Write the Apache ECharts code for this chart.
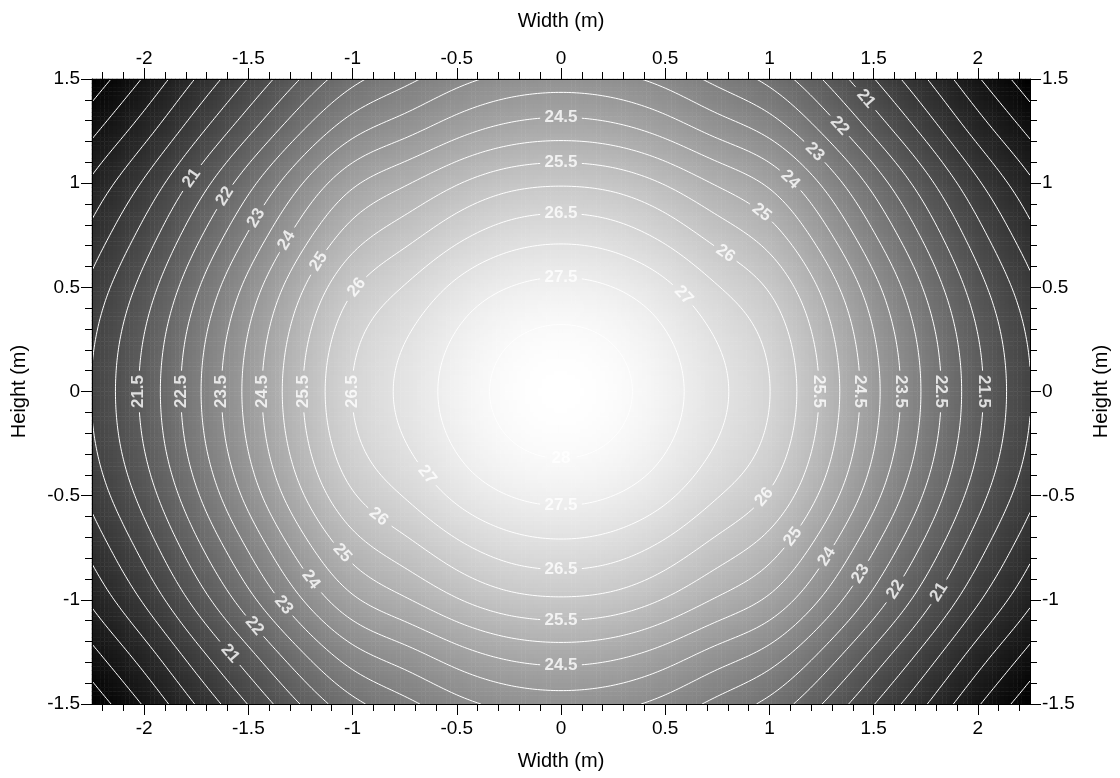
<!DOCTYPE html>
<html>
<head>
<meta charset="utf-8">
<title>Contour map</title>
<script src="https://cdn.jsdelivr.net/npm/echarts@6/dist/echarts.min.js"></script>
<style>
  html, body { margin: 0; padding: 0; background: #ffffff; }
  #chart { width: 1120px; height: 778px; }
</style>
</head>
<body>
<div id="chart"></div>
<script>
// Sample positions of the field (metres)
const widthPositions = [-2.25, -2, -1.75, -1.5, -1.25, -1, -0.75, -0.5, -0.25, 0, 0.25, 0.5, 0.75, 1, 1.25, 1.5, 1.75, 2, 2.25];
const heightPositions = [1.5, 1.25, 1, 0.75, 0.5, 0.25, 0, -0.25, -0.5, -0.75, -1, -1.25, -1.5];

// Field values, one row per height (top row first), one value per width position
const rowH150 = [17.70, 18.55, 19.53, 20.52, 21.51, 22.35, 22.86, 23.33, 23.64, 23.74, 23.64, 23.33, 22.86, 22.35, 21.51, 20.52, 19.53, 18.55, 17.70];
const rowH125 = [18.39, 19.30, 20.34, 21.40, 22.46, 23.35, 23.85, 24.34, 24.68, 24.79, 24.68, 24.34, 23.85, 23.35, 22.46, 21.40, 20.34, 19.30, 18.39];
const rowH100 = [19.10, 20.07, 21.18, 22.32, 23.45, 24.40, 24.94, 25.46, 25.83, 25.94, 25.83, 25.46, 24.94, 24.40, 23.45, 22.32, 21.18, 20.07, 19.10];
const rowH075 = [19.66, 20.69, 21.86, 23.05, 24.24, 25.24, 25.81, 26.36, 26.74, 26.86, 26.74, 26.36, 25.81, 25.24, 24.24, 23.05, 21.86, 20.69, 19.66];
const rowH050 = [20.14, 21.20, 22.42, 23.67, 24.91, 25.94, 26.53, 27.11, 27.50, 27.63, 27.50, 27.11, 26.53, 25.94, 24.91, 23.67, 22.42, 21.20, 20.14];
const rowH025 = [20.43, 21.52, 22.77, 24.04, 25.31, 26.37, 26.98, 27.56, 27.97, 28.10, 27.97, 27.56, 26.98, 26.37, 25.31, 24.04, 22.77, 21.52, 20.43];
const rowH000 = [20.52, 21.62, 22.88, 24.16, 25.44, 26.51, 27.12, 27.71, 28.12, 28.25, 28.12, 27.71, 27.12, 26.51, 25.44, 24.16, 22.88, 21.62, 20.52];
const rowHm025 = [20.43, 21.52, 22.77, 24.04, 25.31, 26.37, 26.98, 27.56, 27.97, 28.10, 27.97, 27.56, 26.98, 26.37, 25.31, 24.04, 22.77, 21.52, 20.43];
const rowHm050 = [20.14, 21.20, 22.42, 23.67, 24.91, 25.94, 26.53, 27.11, 27.50, 27.63, 27.50, 27.11, 26.53, 25.94, 24.91, 23.67, 22.42, 21.20, 20.14];
const rowHm075 = [19.66, 20.69, 21.86, 23.05, 24.24, 25.24, 25.81, 26.36, 26.74, 26.86, 26.74, 26.36, 25.81, 25.24, 24.24, 23.05, 21.86, 20.69, 19.66];
const rowHm100 = [19.10, 20.07, 21.18, 22.32, 23.45, 24.40, 24.94, 25.46, 25.83, 25.94, 25.83, 25.46, 24.94, 24.40, 23.45, 22.32, 21.18, 20.07, 19.10];
const rowHm125 = [18.39, 19.30, 20.34, 21.40, 22.46, 23.35, 23.85, 24.34, 24.68, 24.79, 24.68, 24.34, 23.85, 23.35, 22.46, 21.40, 20.34, 19.30, 18.39];
const rowHm150 = [17.70, 18.55, 19.53, 20.52, 21.51, 22.35, 22.86, 23.33, 23.64, 23.74, 23.64, 23.33, 22.86, 22.35, 21.51, 20.52, 19.53, 18.55, 17.70];

// Contour levels
const contourLevels = [18, 18.5, 19, 19.5, 20, 20.5, 21, 21.5, 22, 22.5, 23, 23.5, 24, 24.5, 25, 25.5, 26, 26.5, 27, 27.5, 28];

// Tick values of the width axes
const widthTicks = [-2, -1.5, -1, -0.5, 0, 0.5, 1, 1.5, 2];

// Where each contour label sits: [level, width, height]
const labelSpots = [
  [24.5, 0, 1.312], [25.5, 0, 1.092], [26.5, 0, 0.857], [27.5, 0, 0.55],
  [28, 0, -0.324], [27.5, 0, -0.564], [26.5, 0, -0.867], [25.5, 0, -1.097], [24.5, 0, -1.318],
  [21.5, -2.031, 0], [22.5, -1.828, 0], [23.5, -1.636, 0], [24.5, -1.444, 0], [25.5, -1.237, 0], [26.5, -0.997, 0],
  [25.5, 1.235, 0], [24.5, 1.427, 0], [23.5, 1.619, 0], [22.5, 1.819, 0], [21.5, 2.019, 0],
  [21, -1.766, 1.022], [22, -1.607, 0.933], [23, -1.464, 0.833], [24, -1.32, 0.727], [25, -1.166, 0.622], [26, -0.969, 0.492],
  [21, 1.464, 1.411], [22, 1.329, 1.27], [23, 1.204, 1.135], [24, 1.082, 0.999], [25, 0.955, 0.845], [26, 0.797, 0.665], [27, 0.585, 0.454],
  [27, -0.662, -0.42], [26, -0.883, -0.612], [25, -1.06, -0.79], [24, -1.2, -0.91], [23, -1.339, -1.025], [22, -1.473, -1.135], [21, -1.593, -1.265],
  [26, 1.108, -0.617], [25, 1.176, -0.737], [24, 1.353, -0.843], [23, 1.502, -0.924], [22, 1.66, -0.991], [21, 1.804, -0.957]
];

const FONT = '"Liberation Sans", Arial, Helvetica, sans-serif';
const LABEL_FONT_SIZE = 17;

// ---- smooth field from the sampled grid (separable natural cubic splines) ----
const rowsTopDown = [rowH150, rowH125, rowH100, rowH075, rowH050, rowH025, rowH000,
                     rowHm025, rowHm050, rowHm075, rowHm100, rowHm125, rowHm150];
const rowsAsc = rowsTopDown.slice().reverse();
const yAsc = heightPositions.slice().reverse();
const nSx = widthPositions.length, nSy = yAsc.length;
const stepSx = widthPositions[1] - widthPositions[0];
const stepSy = yAsc[1] - yAsc[0];
const X0 = widthPositions[0], X1 = widthPositions[nSx - 1];
const Y0 = yAsc[0], Y1 = yAsc[nSy - 1];

function splineM(v) {
  const n = v.length, M = new Float64Array(n), m = n - 2;
  const cp = new Float64Array(m), dp = new Float64Array(m);
  for (let k = 0; k < m; k++) {
    const rhs = 6 * (v[k + 2] - 2 * v[k + 1] + v[k]);
    const prevC = k === 0 ? 0 : cp[k - 1], prevD = k === 0 ? 0 : dp[k - 1];
    const den = 4 - prevC;
    cp[k] = 1 / den;
    dp[k] = (rhs - prevD) / den;
  }
  for (let k = m - 1; k >= 0; k--) M[k + 1] = dp[k] - cp[k] * (k === m - 1 ? 0 : M[k + 2]);
  return M;
}
function splineEval(v, M, s) {
  const i = Math.min(Math.max(Math.floor(s), 0), v.length - 2);
  const t = s - i, u = 1 - t;
  return u * v[i] + t * v[i + 1] + ((u * u * u - u) * M[i] + (t * t * t - t) * M[i + 1]) / 6;
}
const rowM = rowsAsc.map(r => splineM(r));
// values on a lattice: xs (width positions) by ys (height positions)
function lattice(xs, ys) {
  const out = xs.map(() => new Float64Array(ys.length));
  xs.forEach((x, a) => {
    const s = (x - X0) / stepSx;
    const col = rowsAsc.map((r, j) => splineEval(r, rowM[j], s));
    const colM = splineM(col);
    ys.forEach((y, b) => { out[a][b] = splineEval(col, colM, (y - Y0) / stepSy); });
  });
  return out;
}

let fieldMin = Infinity, fieldMax = -Infinity;
rowsAsc.forEach(r => r.forEach(v => { fieldMin = Math.min(fieldMin, v); fieldMax = Math.max(fieldMax, v); }));

// ---- shaded cells ----
const CELLS_X = 225, CELLS_Y = 150;
const cellW = (X1 - X0) / CELLS_X, cellH = (Y1 - Y0) / CELLS_Y;
const cellXs = [], cellYs = [];
for (let i = 0; i < CELLS_X; i++) cellXs.push(X0 + (i + 0.5) * cellW);
for (let j = 0; j < CELLS_Y; j++) cellYs.push(Y0 + (j + 0.5) * cellH);
const cellXCats = cellXs.map(v => v.toFixed(4));
const cellYCats = cellYs.map(v => v.toFixed(4));
const cellVals = lattice(cellXs, cellYs);
const cellData = [];
for (let j = 0; j < CELLS_Y; j++) {
  for (let i = 0; i < CELLS_X; i++) cellData.push([i, j, cellVals[i][j]]);
}

// ---- contour tracing (marching squares on a fine node lattice) ----
const NX = 360, NY = 240;
const hx = (X1 - X0) / NX, hy = (Y1 - Y0) / NY;
const nodeXs = [], nodeYs = [];
for (let i = 0; i <= NX; i++) nodeXs.push(X0 + i * hx);
for (let j = 0; j <= NY; j++) nodeYs.push(Y0 + j * hy);
const nodeVals = lattice(nodeXs, nodeYs);

function traceLevel(L) {
  const pos = new Map(), adj = new Map();
  const val = (i, j) => nodeVals[i][j];
  const link = (a, b) => {
    if (!adj.has(a)) adj.set(a, []);
    if (!adj.has(b)) adj.set(b, []);
    adj.get(a).push(b); adj.get(b).push(a);
  };
  const hEdge = (i, j) => {
    const k = 'h' + i + '_' + j;
    if (!pos.has(k)) {
      const v1 = val(i, j), v2 = val(i + 1, j), t = (L - v1) / (v2 - v1);
      pos.set(k, [X0 + (i + t) * hx, Y0 + j * hy]);
    }
    return k;
  };
  const vEdge = (i, j) => {
    const k = 'v' + i + '_' + j;
    if (!pos.has(k)) {
      const v1 = val(i, j), v2 = val(i, j + 1), t = (L - v1) / (v2 - v1);
      pos.set(k, [X0 + i * hx, Y0 + (j + t) * hy]);
    }
    return k;
  };
  for (let j = 0; j < NY; j++) {
    for (let i = 0; i < NX; i++) {
      const a = val(i, j), b = val(i + 1, j), c = val(i + 1, j + 1), d = val(i, j + 1);
      const A = a >= L, B = b >= L, C = c >= L, D = d >= L;
      if (A === B && B === C && C === D) continue;
      const cr = [];
      if (A !== B) cr.push(hEdge(i, j));
      if (B !== C) cr.push(vEdge(i + 1, j));
      if (D !== C) cr.push(hEdge(i, j + 1));
      if (A !== D) cr.push(vEdge(i, j));
      if (cr.length === 2) link(cr[0], cr[1]);
      else if (cr.length === 4) {
        const mid = (a + b + c + d) / 4 >= L;
        if (mid === A) { link(cr[0], cr[1]); link(cr[2], cr[3]); }
        else { link(cr[3], cr[0]); link(cr[1], cr[2]); }
      }
    }
  }
  const used = new Set(), lines = [];
  const walk = start => {
    const line = [pos.get(start)];
    used.add(start);
    let cur = start;
    for (;;) {
      const nb = adj.get(cur).filter(n => !used.has(n));
      if (!nb.length) {
        if (line.length > 2 && adj.get(cur).includes(start)) line.push(pos.get(start));
        break;
      }
      cur = nb[0];
      used.add(cur);
      line.push(pos.get(cur));
    }
    return line;
  };
  for (const [k, n] of adj) if (n.length === 1 && !used.has(k)) lines.push(walk(k));
  for (const k of adj.keys()) if (!used.has(k)) lines.push(walk(k));
  return lines;
}
const contourSets = contourLevels.map(L => ({ level: L, lines: traceLevel(L) }));

// ---- chart ----
const chart = echarts.init(document.getElementById('chart'), null, { renderer: 'canvas' });

const axisCommon = {
  type: 'value',
  z: 10,
  axisLine: { show: true, onZero: false, lineStyle: { color: '#000', width: 1 } },
  splitLine: { show: false },
  axisLabel: { color: '#000', fontSize: 19, fontFamily: FONT },
  axisTick: { show: true, inside: false, length: 11, lineStyle: { color: '#000', width: 1 } },
  minorTick: { show: true, splitNumber: 5, length: 7, lineStyle: { color: '#000', width: 1 } },
  nameLocation: 'middle',
  nameTextStyle: { color: '#000', fontSize: 20, fontFamily: FONT }
};
function widthAxis(position, margin, gap) {
  return Object.assign({}, axisCommon, {
    position, min: X0, max: X1, splitNumber: 9,
    name: 'Width (m)', nameGap: gap,
    axisLabel: Object.assign({}, axisCommon.axisLabel, { margin, customValues: widthTicks }),
    axisTick: Object.assign({}, axisCommon.axisTick, { customValues: widthTicks })
  });
}
function heightAxis(position, margin, gap) {
  return Object.assign({}, axisCommon, {
    position, min: Y0, max: Y1, interval: 0.5,
    name: 'Height (m)', nameGap: gap, nameRotate: 90,
    axisLabel: Object.assign({}, axisCommon.axisLabel, { margin })
  });
}

const baseOption = {
  animation: false,
  backgroundColor: '#ffffff',
  grid: { left: 92, right: 90, top: 79, bottom: 74, containLabel: false, outerBoundsMode: 'none' },
  xAxis: [
    widthAxis('bottom', 15, 47),
    widthAxis('top', 11, 48),
    { type: 'category', data: cellXCats, show: false, position: 'bottom' }
  ],
  yAxis: [
    heightAxis('left', 12, 63),
    heightAxis('right', 12, 61),
    { type: 'category', data: cellYCats, show: false, position: 'left' }
  ],
  visualMap: {
    type: 'continuous', show: false, seriesIndex: 0, dimension: 2,
    min: fieldMin, max: fieldMax,
    inRange: { color: ['#000000', '#ffffff'] }
  },
  series: [{
    type: 'heatmap', xAxisIndex: 2, yAxisIndex: 2, data: cellData,
    progressive: 0, silent: true, z: 1,
    emphasis: { disabled: true }
  }]
};
chart.setOption(baseOption);

// pixel mapping of the data plane
const o = chart.convertToPixel({ xAxisIndex: 0, yAxisIndex: 0 }, [0, 0]);
const u = chart.convertToPixel({ xAxisIndex: 0, yAxisIndex: 0 }, [1, 1]);
const sx = u[0] - o[0], sy = u[1] - o[1];
const toPx = p => [o[0] + p[0] * sx, o[1] + p[1] * sy];

const measure = document.createElement('canvas').getContext('2d');
measure.font = 'bold ' + LABEL_FONT_SIZE + 'px ' + FONT;
const fmtLevel = L => (Number.isInteger(L) ? String(L) : L.toFixed(1));

// place labels on the nearest contour point and read the tangent there
const placed = [];
labelSpots.forEach(([L, ax, ay]) => {
  const set = contourSets.find(s => s.level === L);
  if (!set) return;
  const ap = toPx([ax, ay]);
  let best = null;
  set.lines.forEach(line => {
    line.forEach((p, k) => {
      const q = toPx(p);
      const d = (q[0] - ap[0]) ** 2 + (q[1] - ap[1]) ** 2;
      if (!best || d < best.d) best = { d, line, k };
    });
  });
  if (!best) return;
  const line = best.line, k = best.k;
  const pa = toPx(line[Math.max(0, k - 4)]), pb = toPx(line[Math.min(line.length - 1, k + 4)]);
  let ang = Math.atan2(-(pb[1] - pa[1]), pb[0] - pa[0]) * 180 / Math.PI;
  while (ang > 90) ang -= 180;
  while (ang <= -90) ang += 180;
  if (Math.abs(ang) > 84) ang = ax < 0 ? 90 : -90;
  const text = fmtLevel(L);
  const w = measure.measureText(text).width;
  const c = line[k];
  const cp = toPx(c);
  placed.push({ level: L, x: c[0], y: c[1], px: cp[0], py: cp[1], rot: ang, text, r: w / 2 + 4 });
});

// break each contour where its labels sit
const lineSeries = [];
contourSets.forEach(set => {
  const holes = placed.filter(p => p.level === set.level);
  set.lines.forEach(line => {
    let cur = [];
    const flush = () => {
      if (cur.length > 1) {
        lineSeries.push({
          type: 'line', xAxisIndex: 0, yAxisIndex: 0, data: cur,
          symbol: 'none', showSymbol: false, silent: true, z: 3,
          lineStyle: { color: '#ffffff', width: 1 },
          emphasis: { disabled: true }
        });
      }
      cur = [];
    };
    line.forEach(p => {
      const q = toPx(p);
      const inside = holes.some(h => Math.hypot(q[0] - h.px, q[1] - h.py) < h.r);
      if (inside) flush(); else cur.push(p);
    });
    flush();
  });
});

const labelSeries = {
  type: 'scatter', xAxisIndex: 0, yAxisIndex: 0, silent: true, z: 5,
  symbol: 'circle', symbolSize: 1,
  itemStyle: { color: 'rgba(0,0,0,0)' },
  emphasis: { disabled: true },
  data: placed.map(p => ({ value: [p.x, p.y], name: p.text, label: { rotate: p.rot } })),
  label: {
    show: true, position: 'inside', formatter: '{b}',
    color: '#ffffff', fontSize: LABEL_FONT_SIZE, fontWeight: 'bold', fontFamily: FONT
  }
};

chart.setOption({ series: [baseOption.series[0]].concat(lineSeries, [labelSeries]) });
</script>
</body>
</html>
